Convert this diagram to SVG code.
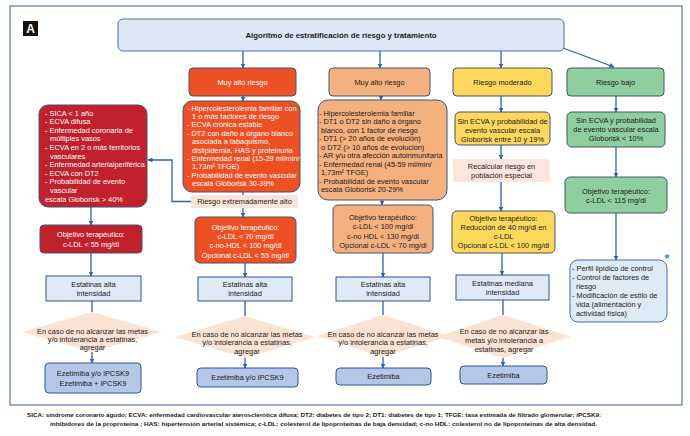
<svg xmlns="http://www.w3.org/2000/svg" width="690" height="436" viewBox="0 0 690 436">
<defs>
<marker id="ah" viewBox="0 0 10 10" refX="9" refY="5" markerWidth="5" markerHeight="5" orient="auto" markerUnits="userSpaceOnUse">
<path d="M0,0 L10,5 L0,10 z" fill="#2f5fad"/>
</marker>
<style>
text{font-family:"Liberation Sans",Arial,sans-serif;font-size:7.4px;fill:#1a1a1a}
.w{fill:#ffffff}
.c{text-anchor:middle}
.b{font-weight:bold}
.hdr{stroke:#44546a;stroke-width:1}
.red{fill:#ee5025}
.dred{fill:#c1212c}
.peach{fill:#f5b07f}
.yel{fill:#fdd85d}
.grn{fill:#8fcf9f}
.lb{fill:#ddebf7;stroke:#4a6fa8;stroke-width:1}
.st{fill:#deebf7;stroke:#2f5597;stroke-width:1}
.ez{fill:#b4c7e7;stroke:#2f5597;stroke-width:1}
.dia{fill:#fbe3d4}
.pink{fill:#fae3da}
.con line,.con polyline{stroke:#2f5fad;stroke-width:1.3;fill:none}
.arr{marker-end:url(#ah)}
</style>
</defs>
<rect x="0" y="0" width="690" height="436" fill="#ffffff"/>
<rect x="10" y="6" width="672" height="399" fill="#ffffff" stroke="#3d5a99" stroke-width="1"/>
<g id="label-A">
<rect x="23" y="21" width="15" height="15" fill="#111111"/>
<text x="30.5" y="33" class="w c b" style="font-size:12px">A</text>
</g>

<g class="con" id="connectors">
<line class="arr" x1="243" y1="51" x2="243" y2="68"/>
<line class="arr" x1="380" y1="51" x2="380" y2="68"/>
<line class="arr" x1="501" y1="51" x2="501" y2="68"/>
<line class="arr" x1="563" y1="48" x2="614" y2="67"/>
<line class="arr" x1="243" y1="96" x2="243" y2="101"/>
<line x1="243" y1="192" x2="243" y2="195"/>
<polyline class="arr" points="191,201.5 172,201.5 172,160 148,160"/>
<line class="arr" x1="243" y1="208" x2="243" y2="217"/>
<line class="arr" x1="91" y1="207" x2="91" y2="225"/>
<line class="arr" x1="91" y1="253" x2="91" y2="276"/>
<line x1="92" y1="301" x2="92" y2="312"/>
<line class="arr" x1="92" y1="352" x2="92" y2="363"/>
<line class="arr" x1="245" y1="263" x2="245" y2="277"/>
<line x1="245" y1="301" x2="245" y2="316"/>
<line class="arr" x1="245" y1="358" x2="245" y2="368"/>
<line class="arr" x1="381" y1="96" x2="381" y2="100"/>
<line class="arr" x1="382" y1="200" x2="382" y2="205"/>
<line class="arr" x1="383" y1="253" x2="383" y2="277"/>
<line x1="383" y1="301" x2="383" y2="315"/>
<line class="arr" x1="383" y1="357" x2="383" y2="368"/>
<line class="arr" x1="501" y1="96" x2="501" y2="112"/>
<line class="arr" x1="501" y1="145" x2="501" y2="159"/>
<line class="arr" x1="501" y1="182" x2="501" y2="211"/>
<line class="arr" x1="502" y1="253" x2="502" y2="275"/>
<line x1="503" y1="300" x2="503" y2="315"/>
<line class="arr" x1="503" y1="358" x2="503" y2="366"/>
<line class="arr" x1="616" y1="96" x2="616" y2="112"/>
<line class="arr" x1="616" y1="147" x2="616" y2="177"/>
<line class="arr" x1="616" y1="213" x2="616" y2="260"/>
</g>

<g id="title">
<rect x="118" y="19" width="446" height="32" rx="5" fill="#dde7f5" stroke="#4b6fae" stroke-width="1"/>
<text x="341" y="38" class="c b" style="font-size:7.8px">Algoritmo de estratificación de riesgo y tratamiento</text>
</g>

<g id="hdr-red">
<rect x="189" y="68" width="107" height="28" rx="4" class="red hdr"/>
<text x="242.5" y="84.5" class="c w">Muy alto riesgo</text>
</g>
<g id="hdr-peach">
<rect x="329" y="68" width="101" height="28" rx="4" class="peach hdr"/>
<text x="379.5" y="84.5" class="c">Muy alto riesgo</text>
</g>
<g id="hdr-yellow">
<rect x="453" y="68" width="99" height="28" rx="4" class="yel hdr"/>
<text x="502.5" y="84.5" class="c">Riesgo moderado</text>
</g>
<g id="hdr-green">
<rect x="567" y="68" width="97" height="28" rx="4" class="grn hdr"/>
<text x="615.5" y="84.5" class="c">Riesgo bajo</text>
</g>

<g id="list-darkred">
<rect x="39" y="105" width="108" height="102" rx="9" class="dred hdr"/>
<text class="w"><tspan x="45" y="115.6">- SICA &lt; 1 año</tspan><tspan x="45" y="124.2">- ECVA difusa</tspan><tspan x="45" y="132.8">- Enfermedad coronaria de</tspan><tspan x="50" y="141.4">múltiples vasos</tspan><tspan x="45" y="150">- ECVA en 2 o más territorios</tspan><tspan x="50" y="158.6">vasculares</tspan><tspan x="45" y="167.2">- Enfermedad arterialperiférica</tspan><tspan x="45" y="175.8">- ECVA con DT2</tspan><tspan x="45" y="184.4">- Probabilidad de evento</tspan><tspan x="50" y="193">vascular</tspan><tspan x="45" y="201.6">escala Globorisk &gt; 40%</tspan></text>
</g>
<g id="obj-darkred">
<rect x="40" y="225" width="102" height="28" rx="4" class="dred hdr"/>
<text x="91" y="236.8" class="c w">Objetivo terapéutico:</text>
<text x="91" y="246.6" class="c w">c-LDL &lt; 55 mg/dl</text>
</g>

<g id="list-red">
<rect x="183" y="101" width="117" height="91" rx="9" class="red hdr"/>
<text class="w"><tspan x="187" y="110.6">- Hipercolesterolemia familiar con</tspan><tspan x="192" y="119">1 o más factores de riesgo</tspan><tspan x="187" y="127.4">- ECVA crónica estable</tspan><tspan x="187" y="135.8">- DT2 con daño a órgano blanco</tspan><tspan x="192" y="144.2">asociada a tabaquismo,</tspan><tspan x="192" y="152.6">dislipidemia, HAS y proteinuria</tspan><tspan x="187" y="161">- Enfermedad renal (15-29 ml/min/</tspan><tspan x="192" y="169.4">1,73m² TFGE)</tspan><tspan x="187" y="177.8">- Probabilidad de evento vascular</tspan><tspan x="192" y="186.2">escala Globorisk 30-39%</tspan></text>
</g>
<g id="extremo">
<rect x="191" y="195" width="107" height="13" class="pink"/>
<text x="244.5" y="204.4" class="c">Riesgo extremadamente alto</text>
</g>
<g id="obj-red">
<rect x="195" y="217" width="101" height="46" rx="5" class="red hdr"/>
<text class="c w"><tspan x="245.5" y="229.6">Objetivo terapéutico:</tspan><tspan x="245.5" y="239">c-LDL &lt; 70 mg/dl</tspan><tspan x="245.5" y="248.4">c-no-HDL  &lt; 100 mg/dl</tspan><tspan x="245.5" y="257.8">Opcional c-LDL &lt; 55 mg/dl</tspan></text>
</g>

<g id="list-peach">
<rect x="318" y="100" width="129" height="100" rx="10" class="peach hdr"/>
<text><tspan x="319" y="115.6">- Hipercolesterolemia familiar</tspan><tspan x="319" y="124.1">- DT1 o DT2 sin daño a órgano</tspan><tspan x="321" y="132.6">blanco, con 1 factor de riesgo</tspan><tspan x="319" y="141.1">- DT1 (&gt; 20 años de evolución)</tspan><tspan x="321" y="149.6">o DT2 (&gt; 10 años de evolución)</tspan><tspan x="319" y="158.1">- AR y/u otra afección  autoinmunitaria</tspan><tspan x="319" y="166.6">- Enfermedad renal (45-59 ml/min/</tspan><tspan x="321" y="175.1">1,73m² TFGE)</tspan><tspan x="319" y="183.6">- Probabilidad de evento vascular</tspan><tspan x="321" y="192.1">escala Globorisk 20-29%</tspan></text>
</g>
<g id="obj-peach">
<rect x="333" y="205" width="100" height="48" rx="5" class="peach hdr"/>
<text class="c"><tspan x="383" y="219.6">Objetivo terapéutico:</tspan><tspan x="383" y="229.2">c-LDL &lt; 100 mg/dl</tspan><tspan x="383" y="238.6">c-no HDL &lt; 130 mg/dl</tspan><tspan x="383" y="248">Opcional c-LDL &lt; 70 mg/dl</tspan></text>
</g>

<g id="yel-criterio">
<rect x="455" y="112" width="95" height="33" rx="5" class="yel hdr"/>
<text class="c"><tspan x="502.5" y="123.6">Sin ECVA y probabilidad de</tspan><tspan x="502.5" y="132.6">evento vascular escala</tspan><tspan x="502.5" y="141.6">Globorisk entre 10 y 19%</tspan></text>
</g>
<g id="recalcular">
<rect x="453" y="159" width="97" height="23" fill="#fbe5dc"/>
<text class="c"><tspan x="501.5" y="169.4">Recalcular riesgo en</tspan><tspan x="501.5" y="178.4">población especial</tspan></text>
</g>
<g id="obj-yellow">
<rect x="452" y="211" width="103" height="42" rx="5" class="yel hdr"/>
<text class="c"><tspan x="503.5" y="220.6">Objetivo terapéutico:</tspan><tspan x="503.5" y="229.6">Reducción de 40 mg/dl en</tspan><tspan x="503.5" y="238.6">c-LDL</tspan><tspan x="503.5" y="247.6">Opcional c-LDL &lt; 100 mg/dl</tspan></text>
</g>

<g id="grn-criterio">
<rect x="567" y="112" width="98" height="35" rx="5" class="grn hdr"/>
<text class="c"><tspan x="616" y="122.6">Sin ECVA y probabilidad</tspan><tspan x="616" y="131.6">de evento vascular escala</tspan><tspan x="616" y="140.6">Globorisk &lt; 10%</tspan></text>
</g>
<g id="obj-green">
<rect x="565" y="177" width="102" height="36" rx="5" class="grn hdr"/>
<text class="c"><tspan x="616" y="193.6">Objetivo terapéutico:</tspan><tspan x="616" y="202.6">c-LDL &lt; 115 mg/dl</tspan></text>
</g>
<g id="grn-medidas">
<rect x="570" y="260" width="97" height="62" rx="8" class="lb"/>
<text><tspan x="572" y="270.6">- Perfil lipídico de control</tspan><tspan x="572" y="279.6">- Control de factores de</tspan><tspan x="576" y="288.6">riesgo</tspan><tspan x="572" y="298">- Modificación de estilo de</tspan><tspan x="576" y="307">vida (alimentación y</tspan><tspan x="576" y="316">actividad física)</tspan></text>
<text x="667" y="263" class="c b" style="font-size:13px;fill:#3a8fd0">*</text>
</g>

<g id="statin-1">
<rect x="46" y="276" width="95" height="25" class="st"/>
<text class="c"><tspan x="93.5" y="286.6">Estatinas alta</tspan><tspan x="93.5" y="295.6">intensidad</tspan></text>
</g>
<g id="statin-2">
<rect x="198" y="277" width="94" height="24" class="st"/>
<text class="c"><tspan x="245" y="286.6">Estatinas alta</tspan><tspan x="245" y="295.6">intensidad</tspan></text>
</g>
<g id="statin-3">
<rect x="336" y="277" width="94" height="24" class="st"/>
<text class="c"><tspan x="383" y="286.6">Estatinas alta</tspan><tspan x="383" y="295.6">intensidad</tspan></text>
</g>
<g id="statin-4">
<rect x="456" y="275" width="93" height="25" class="st"/>
<text class="c"><tspan x="502.5" y="285.6">Estatinas mediana</tspan><tspan x="502.5" y="294.6">intensidad</tspan></text>
</g>

<g id="diamond-1">
<polygon points="92,312 162,332 92,352 22,332" class="dia"/>
<text class="c"><tspan x="92.5" y="333.6">En caso de no alcanzar las metas</tspan><tspan x="92.5" y="342">y/o intolerancia a estatinas,</tspan><tspan x="92.5" y="350">agregar</tspan></text>
</g>
<g id="diamond-2">
<polygon points="245,316 315,337 245,358 175,337" class="dia"/>
<text class="c"><tspan x="247" y="336.6">En caso de no alcanzar las metas</tspan><tspan x="247" y="345.4">y/o intolerancia a estatinas,</tspan><tspan x="247" y="354.2">agregar</tspan></text>
</g>
<g id="diamond-3">
<polygon points="383,315 449,336 383,357 317,336" class="dia"/>
<text class="c"><tspan x="383" y="336.6">En caso de no alcanzar las metas</tspan><tspan x="383" y="345.4">y/o intolerancia a estatinas,</tspan><tspan x="383" y="354.2">agregar</tspan></text>
</g>
<g id="diamond-4">
<polygon points="503,315 571,336.5 503,358 437,336.5" class="dia"/>
<text class="c"><tspan x="504" y="333.6">En caso de no alcanzar las</tspan><tspan x="504" y="342.6">metas y/o intolerancia a</tspan><tspan x="504" y="351.6">estatinas, agregar</tspan></text>
</g>

<g id="ezet-1">
<rect x="45" y="363" width="96" height="30" rx="4" class="ez"/>
<text class="c"><tspan x="93" y="376.2">Ezetimiba y/o iPCSK9</tspan><tspan x="93" y="386">Ezetimiba + iPCSK9</tspan></text>
</g>
<g id="ezet-2">
<rect x="197" y="368" width="101" height="19" rx="4" class="ez"/>
<text x="247.5" y="380" class="c">Ezetimiba y/o iPCSK9</text>
</g>
<g id="ezet-3">
<rect x="336" y="368" width="95" height="17" rx="4" class="ez"/>
<text x="383.5" y="379.2" class="c">Ezetimiba</text>
</g>
<g id="ezet-4">
<rect x="460" y="366" width="87" height="18" rx="4" class="ez"/>
<text x="503.5" y="377.6" class="c">Ezetimiba</text>
</g>

<g id="footer">
<text x="314" y="417.4" class="c b" style="font-size:6.2px" textLength="574" lengthAdjust="spacingAndGlyphs">SICA: síndrome coronario agudo; ECVA: enfermedad cardiovascular aterosclerótica difusa; DT2: diabetes de tipo 2; DT1: diabetes de tipo 1; TFGE: tasa estimada de filtrado glomerular; iPCSK9:</text>
<text x="323.5" y="425.6" class="c b" style="font-size:6.2px" textLength="547" lengthAdjust="spacingAndGlyphs">inhibidores de la proproteína ; HAS: hipertensión arterial sistémica; c-LDL: colesterol de lipoproteínas de baja densidad; c-no HDL: colesterol no de lipoproteínas de alta densidad.</text>
</g>
</svg>
